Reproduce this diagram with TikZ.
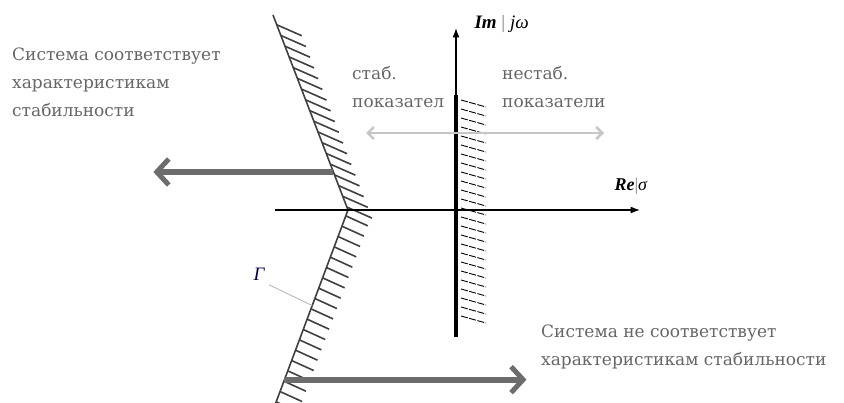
\documentclass[tikz,border=0pt]{standalone}
\usepackage{fontspec}
\setmainfont{DejaVu Serif}
\newfontfamily\axfont{Liberation Serif}
\usetikzlibrary{calc,arrows.meta}

\begin{document}
\begin{tikzpicture}[x=1pt,y=-1pt,>=Latex,
  txt/.style={text=gray!80!black,font=\fontsize{17}{28}\selectfont,align=left,inner sep=0pt},
  bigarrow/.style={line width=6pt,gray!85!black,-{Straight Barb[length=12pt,width=26pt,line width=5pt]}},
  hatch/.style={line width=1.6pt,black!75}]
  \useasboundingbox (0,0) rectangle (844,403);
  % boundary G
  \coordinate (G0) at (273,15);
  \coordinate (GV) at (348,210);
  \coordinate (G2) at (275,405);
  \draw[hatch] (G0) -- (GV) -- (G2);
  \foreach \i in {0,...,17} {
    \draw[hatch] ($(G0)!0.05+\i*0.055!(GV)$) -- ++(25,11);
  }
  \foreach \i in {0,...,18} {
    \draw[hatch] ($(GV)!0.03+\i*0.053!(G2)$) -- ++(22,10);
  }
  % axes
  \coordinate (reL) at (275,210);
  \coordinate (reR) at (640,210);
  \coordinate (imB) at (456,337);
  \coordinate (imM) at (456,95);
  \coordinate (imT) at (456,28);
  \draw[->,line width=1.4pt] (reL) -- (reR);
  \draw[->,line width=1.4pt] (imB) -- (imT);
  \draw[line width=3.5pt] (imB) -- (imM);
  \foreach \y in {100,109,...,318} {
    \draw[line width=0.9pt,dash pattern=on 7pt off 1.5pt] (461,\y) -- ++(25,7);
  }
  \node[font=\axfont\fontsize{19}{19}\selectfont,anchor=west] (im) at (471,24)
    {\textbf{\textit{Im}} {\color{gray}|} \textit{jω}};
  \node[font=\axfont\fontsize{18}{18}\selectfont,anchor=west] (re) at (611,186)
    {\textbf{\textit{Re}}{\color{gray}|}\textit{σ}};
  % stability indices
  \node[txt,anchor=north west] (stab) at (352,66) {стаб.\\показател};
  \node[txt,anchor=north west] (nestab) at (502,66) {нестаб.\\показатели};
  \coordinate (dL) at (366,133);
  \coordinate (dR) at (604,133);
  \draw[{Straight Barb[length=6pt,width=12pt]}-{Straight Barb[length=6pt,width=12pt]},line width=2.5pt,gray!45] (dL) -- (dR);
  % system arrows
  \coordinate (sL) at ($(G0)!0.805!(GV)$);
  \coordinate (tL) at ($(sL)+(-180,0)$);
  \draw[bigarrow] (sL) -- (tL);
  \coordinate (sR) at ($(GV)!0.87!(G2)$);
  \coordinate (tR) at ($(sR)+(242,0)$);
  \draw[bigarrow] (sR) -- (tR);
  \node[txt,anchor=north west] (ok) at (12,48) {Система соответствует\\характеристикам\\стабильности};
  \node[txt,anchor=north west] (nok) at (541,325) {Система не соответствует\\характеристикам стабильности};
  % label G
  \node[font=\axfont\fontsize{19}{19}\selectfont\itshape,text=blue!30!black] (gam) at (259,274) {Г};
  \coordinate (gP) at ($(GV)!0.49!(G2)$);
  \draw[gray!60,line width=0.8pt] (gam.south east) ++(1,1) -- (gP);
\end{tikzpicture}
\end{document}
